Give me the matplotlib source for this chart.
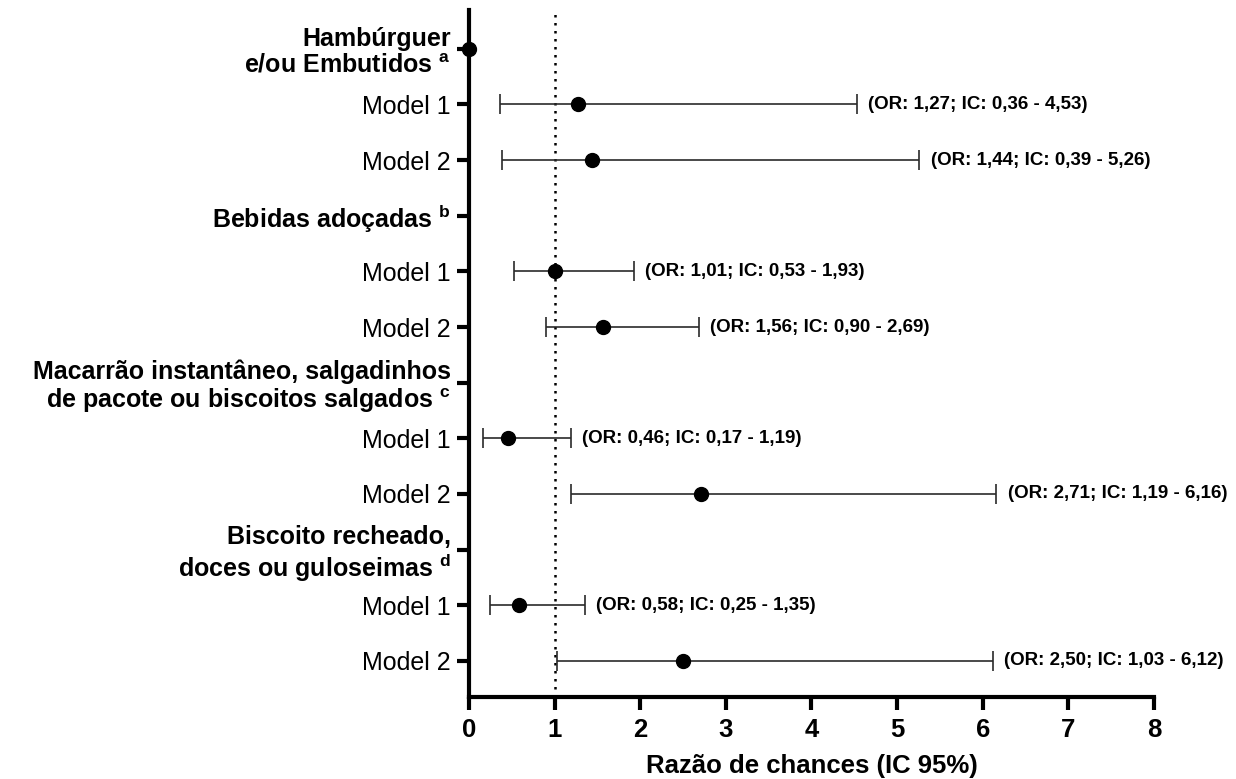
import numpy as np
import matplotlib
matplotlib.use("Agg")
import matplotlib.pyplot as plt

plt.rcParams['font.family'] = ['Liberation Sans', 'DejaVu Sans']
plt.rcParams['mathtext.fontset'] = 'custom'
plt.rcParams['mathtext.rm'] = 'Liberation Sans'
plt.rcParams['mathtext.bf'] = 'Liberation Sans:bold'

# data
headers = ["Hambúrguer\ne/ou Embutidos",
           "Bebidas adoçadas",
           "Macarrão instantâneo, salgadinhos\nde pacote ou biscoitos salgados",
           "Biscoito recheado,\ndoces ou guloseimas"]
header_sup = ["a", "b", "c", "d"]
header_dot = [0.0, np.nan, np.nan, np.nan]
models = ["Model 1", "Model 2"]
odds = [1.27, 1.44, 1.01, 1.56, 0.46, 2.71, 0.58, 2.50]
ci_low = [0.36, 0.39, 0.53, 0.90, 0.17, 1.19, 0.25, 1.03]
ci_high = [4.53, 5.26, 1.93, 2.69, 1.19, 6.16, 1.35, 6.12]
x_ticks = [0, 1, 2, 3, 4, 5, 6, 7, 8]

# build rows: header then its two models
labels = []
is_header = []
head_rows = []
model_rows = []
r = 0
for h, s in zip(headers, header_sup):
    lines = h.split("\n")
    lines[-1] = lines[-1] + " $^{\\mathbf{" + s + "}}$"
    labels.append("\n".join(lines))
    is_header.append(True)
    head_rows.append(r)
    r += 1
    for m in models:
        labels.append(m)
        is_header.append(False)
        model_rows.append(r)
        r += 1

fig = plt.figure(figsize=(12.36, 7.79), dpi=100)
ax = fig.add_axes([0.3794, 0.1053, 0.5543, 0.882])

ax.axvline(1, color='black', lw=1.8, ls=(0, (1, 2.2)), zorder=1)

odds_a = np.array(odds)
err = [odds_a - np.array(ci_low), np.array(ci_high) - odds_a]
ax.errorbar(odds, model_rows, xerr=err, fmt='o', color='black', ms=10,
            ecolor='#2a2a2a', elinewidth=1.2, capsize=7, capthick=1.2, zorder=3)
ax.plot(header_dot, head_rows, 'o', color='black', ms=10, clip_on=False, zorder=4)

for o, lo, hi, y in zip(odds, ci_low, ci_high, model_rows):
    txt = "(OR: %.2f; IC: %.2f - %.2f)" % (o, lo, hi)
    ax.annotate(txt.replace(".", ","), xy=(hi, y), xytext=(8, 0),
                textcoords='offset points', va='center', ha='left',
                fontsize=13.5, fontweight='bold')

ax.set_xlim(0, 8)
ax.set_ylim(11.65, -0.7)
ax.set_xticks(x_ticks)
ax.set_xticklabels([str(t) for t in x_ticks], fontsize=18.5, fontweight='bold')
ax.set_yticks(range(len(labels)))
ax.set_yticklabels(labels, fontsize=18)
for lab, hd in zip(ax.get_yticklabels(), is_header):
    if hd:
        lab.set_fontweight('bold')
        lab.set_linespacing(1.1)

ax.set_xlabel("Razão de chances (IC 95%)", fontsize=18.5, fontweight='bold', labelpad=9)

for sp in ['top', 'right']:
    ax.spines[sp].set_visible(False)
for sp in ['left', 'bottom']:
    ax.spines[sp].set_linewidth(3)
ax.tick_params(axis='both', length=9, width=3, color='black')
ax.tick_params(axis='x', pad=6)
ax.tick_params(axis='y', pad=4)

fig.savefig("out.png", dpi=100)
